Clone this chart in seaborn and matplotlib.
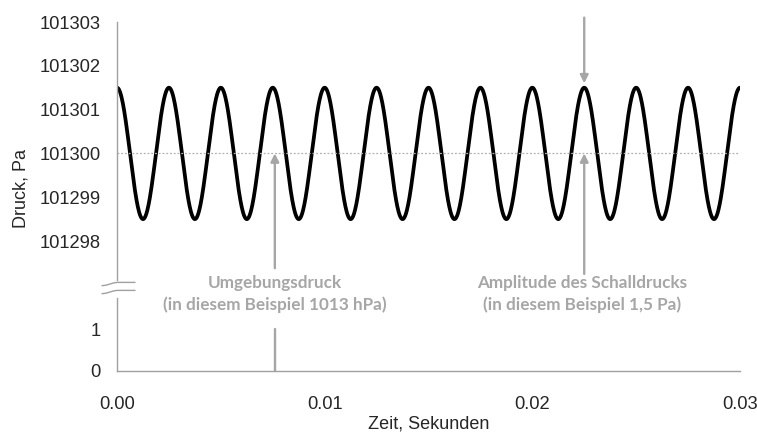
import numpy as np
import pandas as pd
import matplotlib.pyplot as plt
import seaborn as sns

sns.set_style("white")
plt.rcParams["font.family"] = ["Liberation Sans", "DejaVu Sans"]

# values
ambient_pa = 101300
amplitude_pa = 1.5
frequency_hz = 400
t_end = 0.03

x_ticks = [0.00, 0.01, 0.02, 0.03]
x_ticklabels = ["0.00", "0.01", "0.02", "0.03"]
y_ticks_top = [101298, 101299, 101300, 101301, 101302, 101303]
y_ticks_bottom = [0, 1]

arrow_x_ambient = 0.0076
arrow_x_amplitude = 0.0225

t = np.linspace(0, t_end, 1501)
df = pd.DataFrame({
    "time": t,
    "pressure": ambient_pa + amplitude_pa * np.cos(2 * np.pi * frequency_hz * t),
})

grey = "#a6a6a6"
spine_grey = "#a0a0a0"

fig = plt.figure(figsize=(7.57, 4.34), dpi=100)
ax = fig.add_axes([0.1546, 0.3548, 0.8229, 0.5945])
ax2 = fig.add_axes([0.1546, 0.1452, 0.8229, 0.1682])

sns.lineplot(data=df, x="time", y="pressure", ax=ax, color="black", lw=2.7)
ax.plot([0, t_end], [ambient_pa, ambient_pa], color="#b0b0b0", lw=0.9, ls=(0, (1.5, 1.5)))

ax.set_xlim(0, t_end)
ax2.set_xlim(0, t_end)
ax.set_ylim(101297.11, 101303)
ax2.set_ylim(0, 1.74)

ax.set_yticks(y_ticks_top)
ax.set_yticklabels([str(v) for v in y_ticks_top])
ax.set_xticks([])
ax2.set_yticks(y_ticks_bottom)
ax2.set_xticks(x_ticks)
ax2.set_xticklabels(x_ticklabels)

for a in (ax, ax2):
    for s in ["top", "right"]:
        a.spines[s].set_visible(False)
    a.spines["left"].set_color(spine_grey)
    a.spines["left"].set_linewidth(1.0)
    a.patch.set_alpha(0)
ax.spines["bottom"].set_visible(False)
ax2.spines["bottom"].set_color(spine_grey)
ax2.spines["bottom"].set_linewidth(1.0)

ax.tick_params(axis="y", direction="in", length=5, color=spine_grey, pad=12, labelsize=13.2)
ax2.tick_params(axis="y", direction="in", length=5, color=spine_grey, pad=12, labelsize=13.2)
ax2.tick_params(axis="x", direction="in", length=5, color=spine_grey, pad=18, labelsize=13.2)

ax.set_xlabel("")
ax.set_ylabel("")
ax2.set_xlabel("Zeit, Sekunden", fontsize=13, labelpad=2)
fig.text(21 / 757, 1 - 188 / 434, "Druck, Pa", rotation=90, ha="center", va="center", fontsize=13)

arrow = dict(arrowstyle="-|>", color=grey, lw=1.7, mutation_scale=12, shrinkA=0, shrinkB=0)

# ambient pressure arrow
ax.annotate("", xy=(arrow_x_ambient, ambient_pa), xytext=(arrow_x_ambient, 101297.38),
            arrowprops=arrow, annotation_clip=False)
ax2.plot([arrow_x_ambient, arrow_x_ambient], [0, 1.0], color=grey, lw=1.7, clip_on=False)

# amplitude arrows
ax.annotate("", xy=(arrow_x_amplitude, 101301.6), xytext=(arrow_x_amplitude, 101303.1),
            arrowprops=arrow, annotation_clip=False)
ax.annotate("", xy=(arrow_x_amplitude, ambient_pa), xytext=(arrow_x_amplitude, 101297.25),
            arrowprops=arrow, annotation_clip=False)

label_font = dict(family=["Lato", "DejaVu Sans"], weight="bold", color=grey, fontsize=12.3,
                  ha="center", va="center")
fig.text(275 / 757, 1 - 294 / 434, "Umgebungsdruck\n(in diesem Beispiel 1013 hPa)",
         linespacing=1.45, **label_font)
fig.text(582 / 757, 1 - 294 / 434, "Amplitude des Schalldrucks\n(in diesem Beispiel 1,5 Pa)",
         linespacing=1.45, **label_font)

# axis break marks
wx = np.linspace(102, 135, 60)
for yc in (284, 292):
    wy = yc + 1.6 * np.cos(np.clip((wx - 102) / 16, 0, 1) * np.pi)
    fig.add_artist(plt.Line2D(wx / 757, 1 - wy / 434, color=spine_grey, lw=1.0,
                              transform=fig.transFigure))

fig.savefig("out.png", dpi=100)
